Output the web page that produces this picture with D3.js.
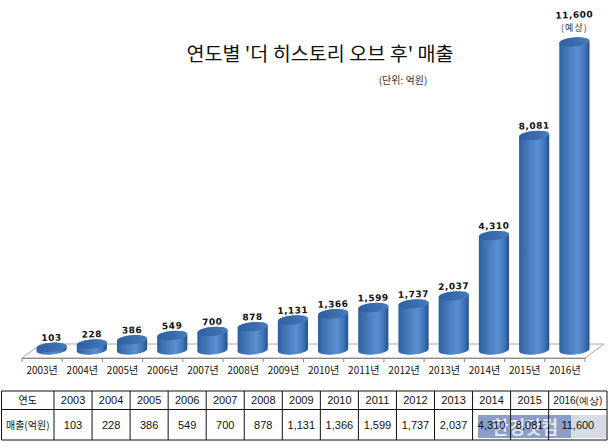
<!DOCTYPE html>
<html><head><meta charset="utf-8">
<script src="https://cdnjs.cloudflare.com/ajax/libs/d3/7.8.5/d3.min.js"></script>
<style>html,body{margin:0;padding:0;background:#fff}svg{display:block}</style>
</head><body><svg id="c" width="616" height="448"></svg>
<script>
const years=["2003","2004","2005","2006","2007","2008","2009","2010","2011","2012","2013","2014","2015","2016"];
const sales=[103,228,386,549,700,878,1131,1366,1599,1737,2037,4310,8081,11600];
const titleText="연도별 '더 히스토리 오브 후' 매출";
const unitText="(단위: 억원)";
const rowHead=["연도","매출(억원)"];

const svg=d3.select("#c");
const KR="'Noto Sans CJK KR','Liberation Sans',sans-serif";
const x=d3.scaleBand().domain(years).range([22,585]).paddingInner(0.25).paddingOuter(0.125);
const y=d3.scaleLinear().domain([0,11600]).range([350,42]);
const fmt=d3.format(",");
const defs=svg.append("defs");
const g1=defs.append("linearGradient").attr("id","cylBody");
[[0,"#2b5c9c"],[.12,"#3a6cab"],[.62,"#5a90d2"],[.85,"#3f74b6"],[1,"#234f8c"]].forEach(d=>g1.append("stop").attr("offset",d[0]).attr("stop-color",d[1]));
const g2=defs.append("linearGradient").attr("id","cylTop");
[[0,"#2f5f9f"],[.6,"#3c6dae"],[1,"#4a7dbd"]].forEach(d=>g2.append("stop").attr("offset",d[0]).attr("stop-color",d[1]));

// floor
const floorL=22,floorR=585,floorF=358,floorB=344,sk=19,backShift=9.5;
svg.append("path").attr("d",`M${floorL},${floorF}L${floorL+sk},${floorB}L${floorR+sk},${floorB}L${floorR},${floorF}Z`).attr("fill","#fff").attr("stroke","#a8a8a8");
// x axis
const ax=d3.axisBottom(x).tickSizeOuter(0).tickSize(0).tickFormat(d=>d+"년");
const axG=svg.append("g").attr("transform",`translate(0,${floorF})`).call(ax);
axG.select(".domain").attr("stroke","#888");
axG.selectAll("text").attr("font-family",KR).attr("font-size",10).attr("fill","#111").attr("y",9).attr("dy","0.71em");
const step=x.step();
svg.append("g").selectAll("line").data(d3.range(15)).join("line")
 .attr("x1",i=>floorL+i*step).attr("x2",i=>floorL+i*step).attr("y1",floorF).attr("y2",floorF+4).attr("stroke","#888");

// cylinders
const rx=()=>x.bandwidth()/2, ry=4.5, tilt=-5;
const cyl=svg.append("g").selectAll("g").data(sales).join("g")
 .attr("transform",(d,i)=>`translate(${x(years[i])+x.bandwidth()/2+backShift},0)`);
const yB=y(0);
cyl.append("path").attr("fill","url(#cylBody)").attr("d",d=>{
 const r=rx(),tp=y(d),dy=r*Math.tan(-tilt*Math.PI/180);
 return `M${-r},${tp+dy}L${-r},${yB+dy}A${r},${ry} ${tilt} 0 0 ${r},${yB-dy}L${r},${tp-dy}A${r},${ry} ${tilt} 0 0 ${-r},${tp+dy}Z`;
});
cyl.append("ellipse").attr("rx",rx()).attr("ry",ry).attr("fill","url(#cylTop)")
 .attr("transform",d=>`translate(0,${y(d)}) rotate(${tilt})`);
// labels
cyl.append("text").attr("text-anchor","middle").attr("font-family","'DejaVu Sans',sans-serif").attr("font-weight","bold").attr("font-size",9).attr("letter-spacing",0.5).attr("fill","#111")
 .attr("transform",d=>`translate(0,${y(d)-(d===11600?24:6.5)}) rotate(-2)`).text(d=>fmt(d));
svg.append("text").attr("x",x("2016")+x.bandwidth()/2+backShift).attr("y",y(11600)-11).attr("text-anchor","middle").attr("font-family",KR).attr("font-size",9).attr("fill","#333").attr("letter-spacing",1).text("(예상)");

// title
svg.append("text").attr("x",320).attr("y",61).attr("text-anchor","middle").attr("font-family",KR).attr("font-size",19.6).attr("fill","#111").text(titleText);
svg.append("text").attr("x",403).attr("y",84).attr("text-anchor","middle").attr("font-family",KR).attr("font-size",10).attr("fill","#333").text(unitText);

// table
const colX=[1.5,54].concat(d3.range(1,14).map(i=>54+i*38.05),[607]);
const rowY=[391,409.5,440];
const t=svg.append("g");
t.append("rect").attr("x",478).attr("y",415).attr("width",93).attr("height",23).attr("fill","#8c9ec6");
t.append("rect").attr("x",571).attr("y",415).attr("width",35).attr("height",23).attr("fill","#d9dbe4");
t.append("text").attr("x",525).attr("y",434).attr("text-anchor","middle").attr("font-family",KR).attr("font-weight","bold").attr("font-size",18).attr("fill","#fff").attr("fill-opacity",.75).text("한경닷컴");
t.selectAll(".v").data(colX).join("line").attr("x1",d=>d).attr("x2",d=>d).attr("y1",rowY[0]).attr("y2",rowY[2]).attr("stroke","#111");
t.selectAll(".h").data(rowY).join("line").attr("class","h").attr("y1",d=>d).attr("y2",d=>d).attr("x1",colX[0]).attr("x2",colX[colX.length-1]).attr("stroke","#111");
const cx=i=>(colX[i]+colX[i+1])/2;
const cell=(i,yy,s,fam,size)=>t.append("text").attr("x",cx(i)).attr("y",yy).attr("text-anchor","middle").attr("font-family",fam).attr("font-size",size).attr("fill","#111").text(s);
cell(0,404,rowHead[0],KR,10); cell(0,428.5,rowHead[1],KR,10);
years.forEach((yr,i)=>{
 cell(i+1,404,i===13?yr+"(예상)":yr,"'Liberation Sans',sans-serif",i===13?10:11);
 cell(i+1,428.5,fmt(sales[i]),"'Liberation Sans',sans-serif",11);
});
</script></body></html>
